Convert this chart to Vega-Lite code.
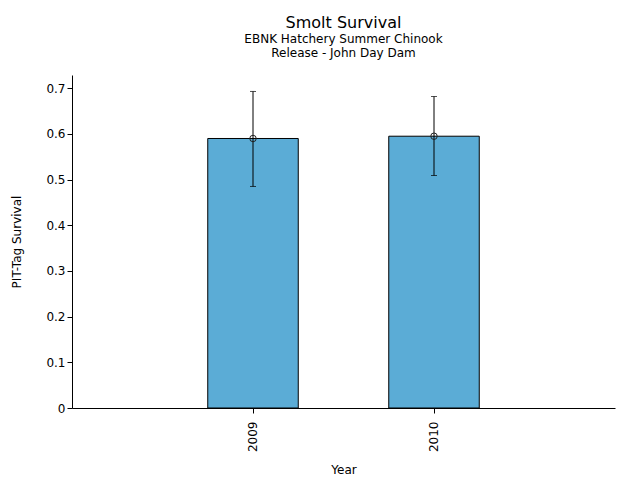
{
  "$schema": "https://vega.github.io/schema/vega-lite/v6.json",
  "width": 543,
  "height": 333,
  "autosize": {"type": "none"},
  "padding": {"left": 72, "top": 75, "right": 25, "bottom": 72},
  "background": "white",
  "config": {
    "view": {"stroke": null},
    "font": "DejaVu Sans",
    "axis": {"grid": false, "domainColor": "black", "tickColor": "black", "labelColor": "black", "titleColor": "black", "labelFont": "DejaVu Sans", "titleFont": "DejaVu Sans", "labelFontSize": 12, "titleFontSize": 12, "titleFontWeight": "normal", "tickSize": 5, "domainWidth": 1, "tickWidth": 1}
  },
  "title": {
    "text": "Smolt Survival",
    "subtitle": ["EBNK Hatchery Summer Chinook", "Release - John Day Dam"],
    "font": "DejaVu Sans",
    "fontSize": 16,
    "fontWeight": "normal",
    "color": "black",
    "subtitleFont": "DejaVu Sans",
    "subtitleFontSize": 12,
    "subtitleColor": "black",
    "subtitleLineHeight": 14,
    "subtitlePadding": 3,
    "anchor": "middle",
    "offset": 16
  },
  "data": {
    "values": [
      {"Year": "2009", "survival": 0.59, "lower": 0.485, "upper": 0.693},
      {"Year": "2010", "survival": 0.595, "lower": 0.509, "upper": 0.682}
    ]
  },
  "encoding": {
    "x": {
      "field": "Year", "type": "nominal",
      "scale": {"paddingInner": 0.5, "paddingOuter": 0.75},
      "axis": {"title": "Year", "labelAngle": -90, "labelPadding": 8, "titlePadding": 13, "labelBaseline": "middle"}
    }
  },
  "layer": [
    {
      "mark": {"type": "bar", "color": "#5BACD6", "stroke": "black", "strokeWidth": 1},
      "encoding": {
        "y": {
          "field": "survival", "type": "quantitative",
          "scale": {"domain": [0, 0.729], "nice": false, "zero": true},
          "axis": {"title": "PIT-Tag Survival", "values": [0, 0.1, 0.2, 0.3, 0.4, 0.5, 0.6, 0.7], "format": "~g", "titlePadding": 22}
        }
      }
    },
    {
      "mark": {"type": "rule", "color": "black", "strokeWidth": 1},
      "encoding": {
        "y": {"field": "lower", "type": "quantitative"},
        "y2": {"field": "upper"}
      }
    },
    {
      "mark": {"type": "tick", "color": "black", "size": 6, "thickness": 1},
      "encoding": {"y": {"field": "lower", "type": "quantitative"}}
    },
    {
      "mark": {"type": "tick", "color": "black", "size": 6, "thickness": 1},
      "encoding": {"y": {"field": "upper", "type": "quantitative"}}
    },
    {
      "mark": {"type": "point", "shape": "circle", "filled": false, "stroke": "#222222", "strokeWidth": 1, "size": 42, "opacity": 1},
      "encoding": {"y": {"field": "survival", "type": "quantitative"}}
    }
  ]
}
